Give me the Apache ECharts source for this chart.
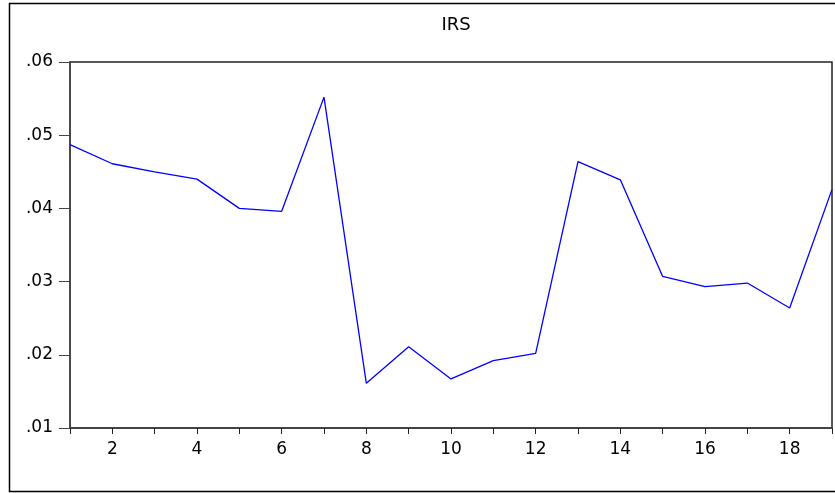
<!DOCTYPE html>
<html>
<head>
<meta charset="utf-8">
<title>IRS</title>
<script src="https://cdn.jsdelivr.net/npm/echarts@6/dist/echarts.min.js"></script>
<style>
  html, body { margin: 0; padding: 0; background: #fff; }
  #main { width: 835px; height: 493px; }
</style>
</head>
<body>
<div id="main"></div>
<script>
// observation numbers on the x axis
const periods = [1, 2, 3, 4, 5, 6, 7, 8, 9, 10, 11, 12, 13, 14, 15, 16, 17, 18, 19]
// IRS values
const irs = [0.0487, 0.0461, 0.0450, 0.0440, 0.0400, 0.0396, 0.0552, 0.0161, 0.0211, 0.0167,
             0.0192, 0.0202, 0.0464, 0.0439, 0.0307, 0.0293, 0.0298, 0.0264, 0.0426]

const labelFont = 'DejaVu Sans'

const chart = echarts.init(document.getElementById('main'))

const option = {
    backgroundColor: '#fff',
    animation: false,
    title: {
        text: 'IRS',
        left: 451,
        textAlign: 'center',
        top: 11,
        textStyle: { fontFamily: labelFont, fontSize: 18, fontWeight: 'normal', color: '#000' }
    },
    grid: {
        left: 70,
        right: 2,
        top: 62,
        bottom: 65,
        show: true,
        borderColor: '#222',
        borderWidth: 1.5
    },
    xAxis: {
        type: 'value',
        min: 1,
        max: 19,
        interval: 1,
        splitLine: { show: false },
        axisLine: { lineStyle: { color: '#444', width: 2 } },
        axisTick: { inside: false, length: 6, lineStyle: { color: '#222' } },
        axisLabel: {
            margin: 13,
            fontFamily: labelFont,
            fontSize: 17,
            color: '#000',
            formatter: v => (v % 2 === 0 ? String(v) : '')
        }
    },
    yAxis: {
        type: 'value',
        min: 0.01,
        max: 0.06,
        interval: 0.01,
        splitLine: { show: false },
        axisLine: { show: true, lineStyle: { color: '#444', width: 1.5 } },
        axisTick: { show: true, length: 11, lineStyle: { color: '#444' } },
        axisLabel: {
            margin: 17,
            fontFamily: labelFont,
            fontSize: 17,
            color: '#000',
            formatter: v => v.toFixed(2).replace(/^0/, '')
        }
    },
    series: [{
        type: 'line',
        data: periods.map((p, i) => [p, irs[i]]),
        symbol: 'none',
        lineStyle: { color: '#0000ff', width: 1.3 }
    }],
    graphic: [{
        type: 'rect',
        shape: { x: 9.5, y: 3.5, width: 900, height: 488 },
        style: { fill: 'none', stroke: '#000', lineWidth: 1.5 },
        silent: true
    }]
}

chart.setOption(option)
</script>
</body>
</html>
